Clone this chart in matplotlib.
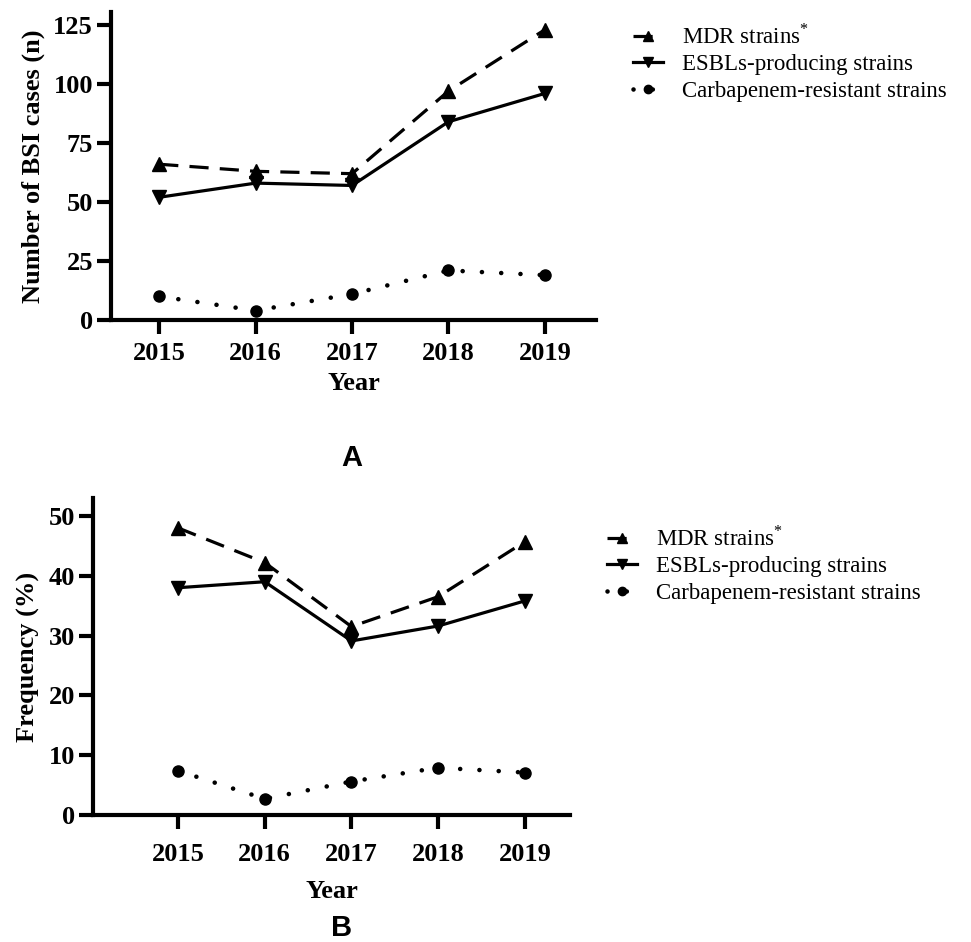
import numpy as np
import matplotlib
matplotlib.use("Agg")
import matplotlib.pyplot as plt

plt.rcParams['font.family'] = 'Liberation Serif'
plt.rcParams['mathtext.fontset'] = 'custom'
plt.rcParams['mathtext.rm'] = 'Liberation Serif'

years = [2015, 2016, 2017, 2018, 2019]

# panel A: number of BSI cases
mdr_n = [66, 63, 62, 97, 123]
esbl_n = [52, 58, 57, 84, 96]
carb_n = [10, 4, 11, 21, 19]

# panel B: frequency (%)
mdr_pct = [48.0, 42.2, 31.5, 36.5, 45.7]
esbl_pct = [38.0, 39.0, 29.1, 31.6, 35.8]
carb_pct = [7.4, 2.7, 5.6, 7.9, 7.1]

labels = ["MDR strains$^{*}$", "ESBLs-producing strains", "Carbapenem-resistant strains"]

W, H = 971, 942
fig = plt.figure(figsize=(W / 100, H / 100), dpi=100)


def px_axes(left, right, top, bottom):
    return fig.add_axes([left / W, 1 - bottom / H, (right - left) / W, (bottom - top) / H])


def draw(ax, series, xlim, ylim, yticks, ylabel, xpad, xlabpad):
    styles = [
        dict(ls=(0, (6, 3.5)), marker='^', ms=10),
        dict(ls='-', marker='v', ms=10),
        dict(ls=(0, (0.01, 4.2)), marker='o', ms=8, dash_capstyle='round', lw=3.3),
    ]
    for vals, st, lab in zip(series, styles, labels):
        kw = dict(color='black', lw=2.3, clip_on=False)
        kw.update(st)
        ax.plot(years, vals, label=lab, **kw)
    ax.set_xlim(*xlim)
    ax.set_ylim(*ylim)
    ax.set_xticks(years)
    ax.set_yticks(yticks)
    for s in ['top', 'right']:
        ax.spines[s].set_visible(False)
    for s in ['left', 'bottom']:
        ax.spines[s].set_linewidth(3)
    ax.tick_params(width=3, length=10, labelsize=19)
    ax.tick_params(axis='x', pad=xpad)
    ax.tick_params(axis='y', pad=3)
    for t in ax.get_xticklabels() + ax.get_yticklabels():
        t.set_fontweight('bold')
    ax.set_ylabel(ylabel, fontsize=19, fontweight='bold', labelpad=6)
    ax.set_xlabel("Year", fontsize=19, fontweight='bold', labelpad=xlabpad)
    ax.legend(loc='upper left', bbox_to_anchor=(1.05, 1.0), frameon=False,
              fontsize=16.5, handlelength=1.3, handletextpad=0.85, labelspacing=0.24,
              markerscale=0.75, borderaxespad=0, borderpad=0)


axA = px_axes(111, 596, 12, 320)
draw(axA, [mdr_n, esbl_n, carb_n], (2014.5, 2019.53), (0, 130.5),
     [0, 25, 50, 75, 100, 125], "Number of BSI cases (n)", 6, 5)
axA.get_legend().set_bbox_to_anchor((633 / W, 1 - 24 / H), transform=fig.transFigure)

axB = px_axes(93, 570, 498, 815)
draw(axB, [mdr_pct, esbl_pct, carb_pct], (2014.02, 2019.52), (0, 53),
     [0, 10, 20, 30, 40, 50], "Frequency (%)", 10, 10)
axB.get_legend().set_bbox_to_anchor((607 / W, 1 - 526 / H), transform=fig.transFigure)

fig.text(352 / W, 1 - 458 / H, "A", family='Liberation Sans', fontweight='bold',
         fontsize=21, ha='center', va='center')
fig.text(342 / W, 1 - 928 / H, "B", family='Liberation Sans', fontweight='bold',
         fontsize=21, ha='center', va='center')

fig.savefig("out.png", dpi=100)
